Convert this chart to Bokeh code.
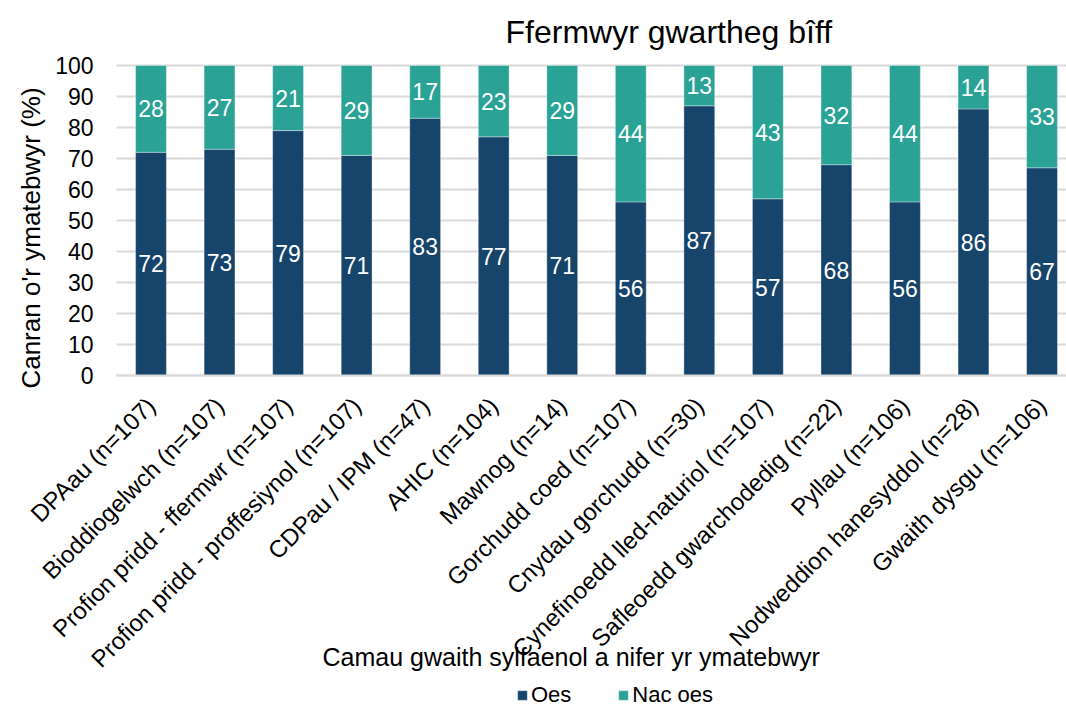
import numpy as np
from bokeh.plotting import figure
from bokeh.models import (ColumnDataSource, Range1d, FixedTicker, Label, Legend, LegendItem, Grid)
from bokeh.core.properties import value
from bokeh.embed import file_html
from bokeh.resources import INLINE

categories = [
    "DPAau (n=107)",
    "Bioddiogelwch (n=107)",
    "Profion pridd - ffermwr (n=107)",
    "Profion pridd - proffesiynol (n=107)",
    "CDPau / IPM (n=47)",
    "AHIC (n=104)",
    "Mawnog (n=14)",
    "Gorchudd coed (n=107)",
    "Cnydau gorchudd (n=30)",
    "Cynefinoedd lled-naturiol (n=107)",
    "Safleoedd gwarchodedig (n=22)",
    "Pyllau (n=106)",
    "Nodweddion hanesyddol (n=28)",
    "Gwaith dysgu (n=106)",
]
oes = [72, 73, 79, 71, 83, 77, 71, 56, 87, 57, 68, 56, 86, 67]
nac_oes = [28, 27, 21, 29, 17, 23, 29, 44, 13, 43, 32, 44, 14, 33]
y_ticks = [0, 10, 20, 30, 40, 50, 60, 70, 80, 90, 100]

title_text = "Ffermwyr gwartheg bîff"
x_title = "Camau gwaith sylfaenol a nifer yr ymatebwyr"
y_title = "Canran o'r ymatebwyr (%)"
series_names = ["Oes", "Nac oes"]
colors = ["#16446b", "#2aa396"]
FONT = "Liberation Sans"

# layout (pixels)
W, H = 1066, 706
TOP, ZERO_PX = 65, 375
AX_LEFT_PX, FIRST_CENTER_PX, STEP_PX = 116, 150.5, 68.54
px_per_unit = (ZERO_PX - TOP) / 100.0
y_start = -(H - ZERO_PX) / px_per_unit
y_end = 100 + TOP / px_per_unit
x_start = -FIRST_CENTER_PX / STEP_PX
x_end = (W - FIRST_CENTER_PX) / STEP_PX
x_left_axis = (AX_LEFT_PX - FIRST_CENTER_PX) / STEP_PX

xs = list(range(len(categories)))
oes_a = np.array(oes, dtype=float)
nac_a = np.array(nac_oes, dtype=float)

src = ColumnDataSource(dict(
    x=xs, oes=oes, nac=nac_oes,
    oes_mid=(oes_a / 2).tolist(),
    nac_mid=(oes_a + nac_a / 2).tolist(),
    oes_txt=[str(v) for v in oes],
    nac_txt=[str(v) for v in nac_oes],
))

p = figure(width=W, height=H, output_backend="svg", toolbar_location=None,
           x_range=Range1d(x_start, x_end), y_range=Range1d(y_start, y_end),
           min_border_left=0, min_border_right=0, min_border_top=0,
           min_border_bottom=0)
p.outline_line_color = None
p.background_fill_color = "white"
p.border_fill_color = "white"

rs = p.vbar_stack(["oes", "nac"], x="x", width=0.45, color=colors, source=src,
                  line_color="white", line_alpha=0.35, line_width=1)

p.text(x="x", y="oes_mid", text="oes_txt", source=src, text_color="white",
       text_font=value(FONT), text_font_size="23px", text_align="center",
       text_baseline="middle")
p.text(x="x", y="nac_mid", text="nac_txt", source=src, text_color="white",
       text_font=value(FONT), text_font_size="23px", text_align="center",
       text_baseline="middle")

# x axis drawn at y = 0 inside the extended frame
p.xaxis.fixed_location = 0
p.xaxis.bounds = (x_left_axis, x_end)
p.xaxis.ticker = FixedTicker(ticks=xs)
p.xaxis.major_label_overrides = {i: c for i, c in enumerate(categories)}
p.xaxis.major_label_orientation = np.pi / 4
p.xaxis.major_label_text_font = FONT
p.xaxis.major_label_text_font_size = "24px"
p.xaxis.major_label_text_color = "#000000"
p.xaxis.major_tick_out = 0
p.xaxis.major_label_standoff = 26
p.xaxis.axis_line_color = "#d9d9d9"
p.xaxis.axis_line_width = 2
p.xaxis.major_tick_line_color = None
p.xaxis.minor_tick_line_color = None

# y axis drawn at the left edge of the bar area
p.yaxis.fixed_location = x_left_axis
p.yaxis.bounds = (0, 100)
p.yaxis.ticker = FixedTicker(ticks=y_ticks)
p.yaxis.major_label_text_font = FONT
p.yaxis.major_label_text_font_size = "23px"
p.yaxis.major_label_text_color = "#000000"
p.yaxis.major_tick_out = 0
p.yaxis.major_label_standoff = 23
p.yaxis.axis_line_color = None
p.yaxis.major_tick_line_color = None
p.yaxis.minor_tick_line_color = None

p.xgrid.grid_line_color = None
yg = p.ygrid[0]
yg.grid_line_color = "#d9d9d9"
yg.grid_line_width = 2
yg.level = "underlay"
if "cross_bounds" in Grid.properties():
    yg.cross_bounds = (x_left_axis, x_end)
else:
    yg.grid_line_color = None
    p.segment(x0=[x_left_axis] * len(y_ticks), x1=[x_end] * len(y_ticks),
              y0=y_ticks, y1=y_ticks, line_color="#d9d9d9", line_width=2,
              level="underlay")

# chart title
p.add_layout(Label(x=505, y=H - 31, x_units="screen", y_units="screen",
                   text=title_text, text_font=FONT, text_font_size="32px",
                   text_color="#000000", text_align="left",
                   text_baseline="middle"))

# y-axis title
p.add_layout(Label(x=30, y=H - 237.5, x_units="screen", y_units="screen",
                   text=y_title, angle=np.pi / 2, text_font=FONT,
                   text_font_size="26px", text_color="#000000",
                   text_align="center", text_baseline="middle"))

# x-axis title
p.add_layout(Label(x=322, y=H - 656, x_units="screen", y_units="screen",
                   text=x_title, text_font=FONT, text_font_size="25px",
                   text_color="#000000", text_align="left",
                   text_baseline="middle"))

legend = Legend(items=[LegendItem(label=series_names[0], renderers=[rs[0]]),
                       LegendItem(label=series_names[1], renderers=[rs[1]])],
                location=(516, -2), orientation="horizontal",
                glyph_width=12, glyph_height=12, label_standoff=3, spacing=46,
                padding=0, margin=0, border_line_color=None,
                background_fill_alpha=0, label_text_font=FONT,
                label_text_font_size="22px", label_text_color="#000000")
p.add_layout(legend, "center")

open("out.html", "w").write(file_html(p, INLINE))
